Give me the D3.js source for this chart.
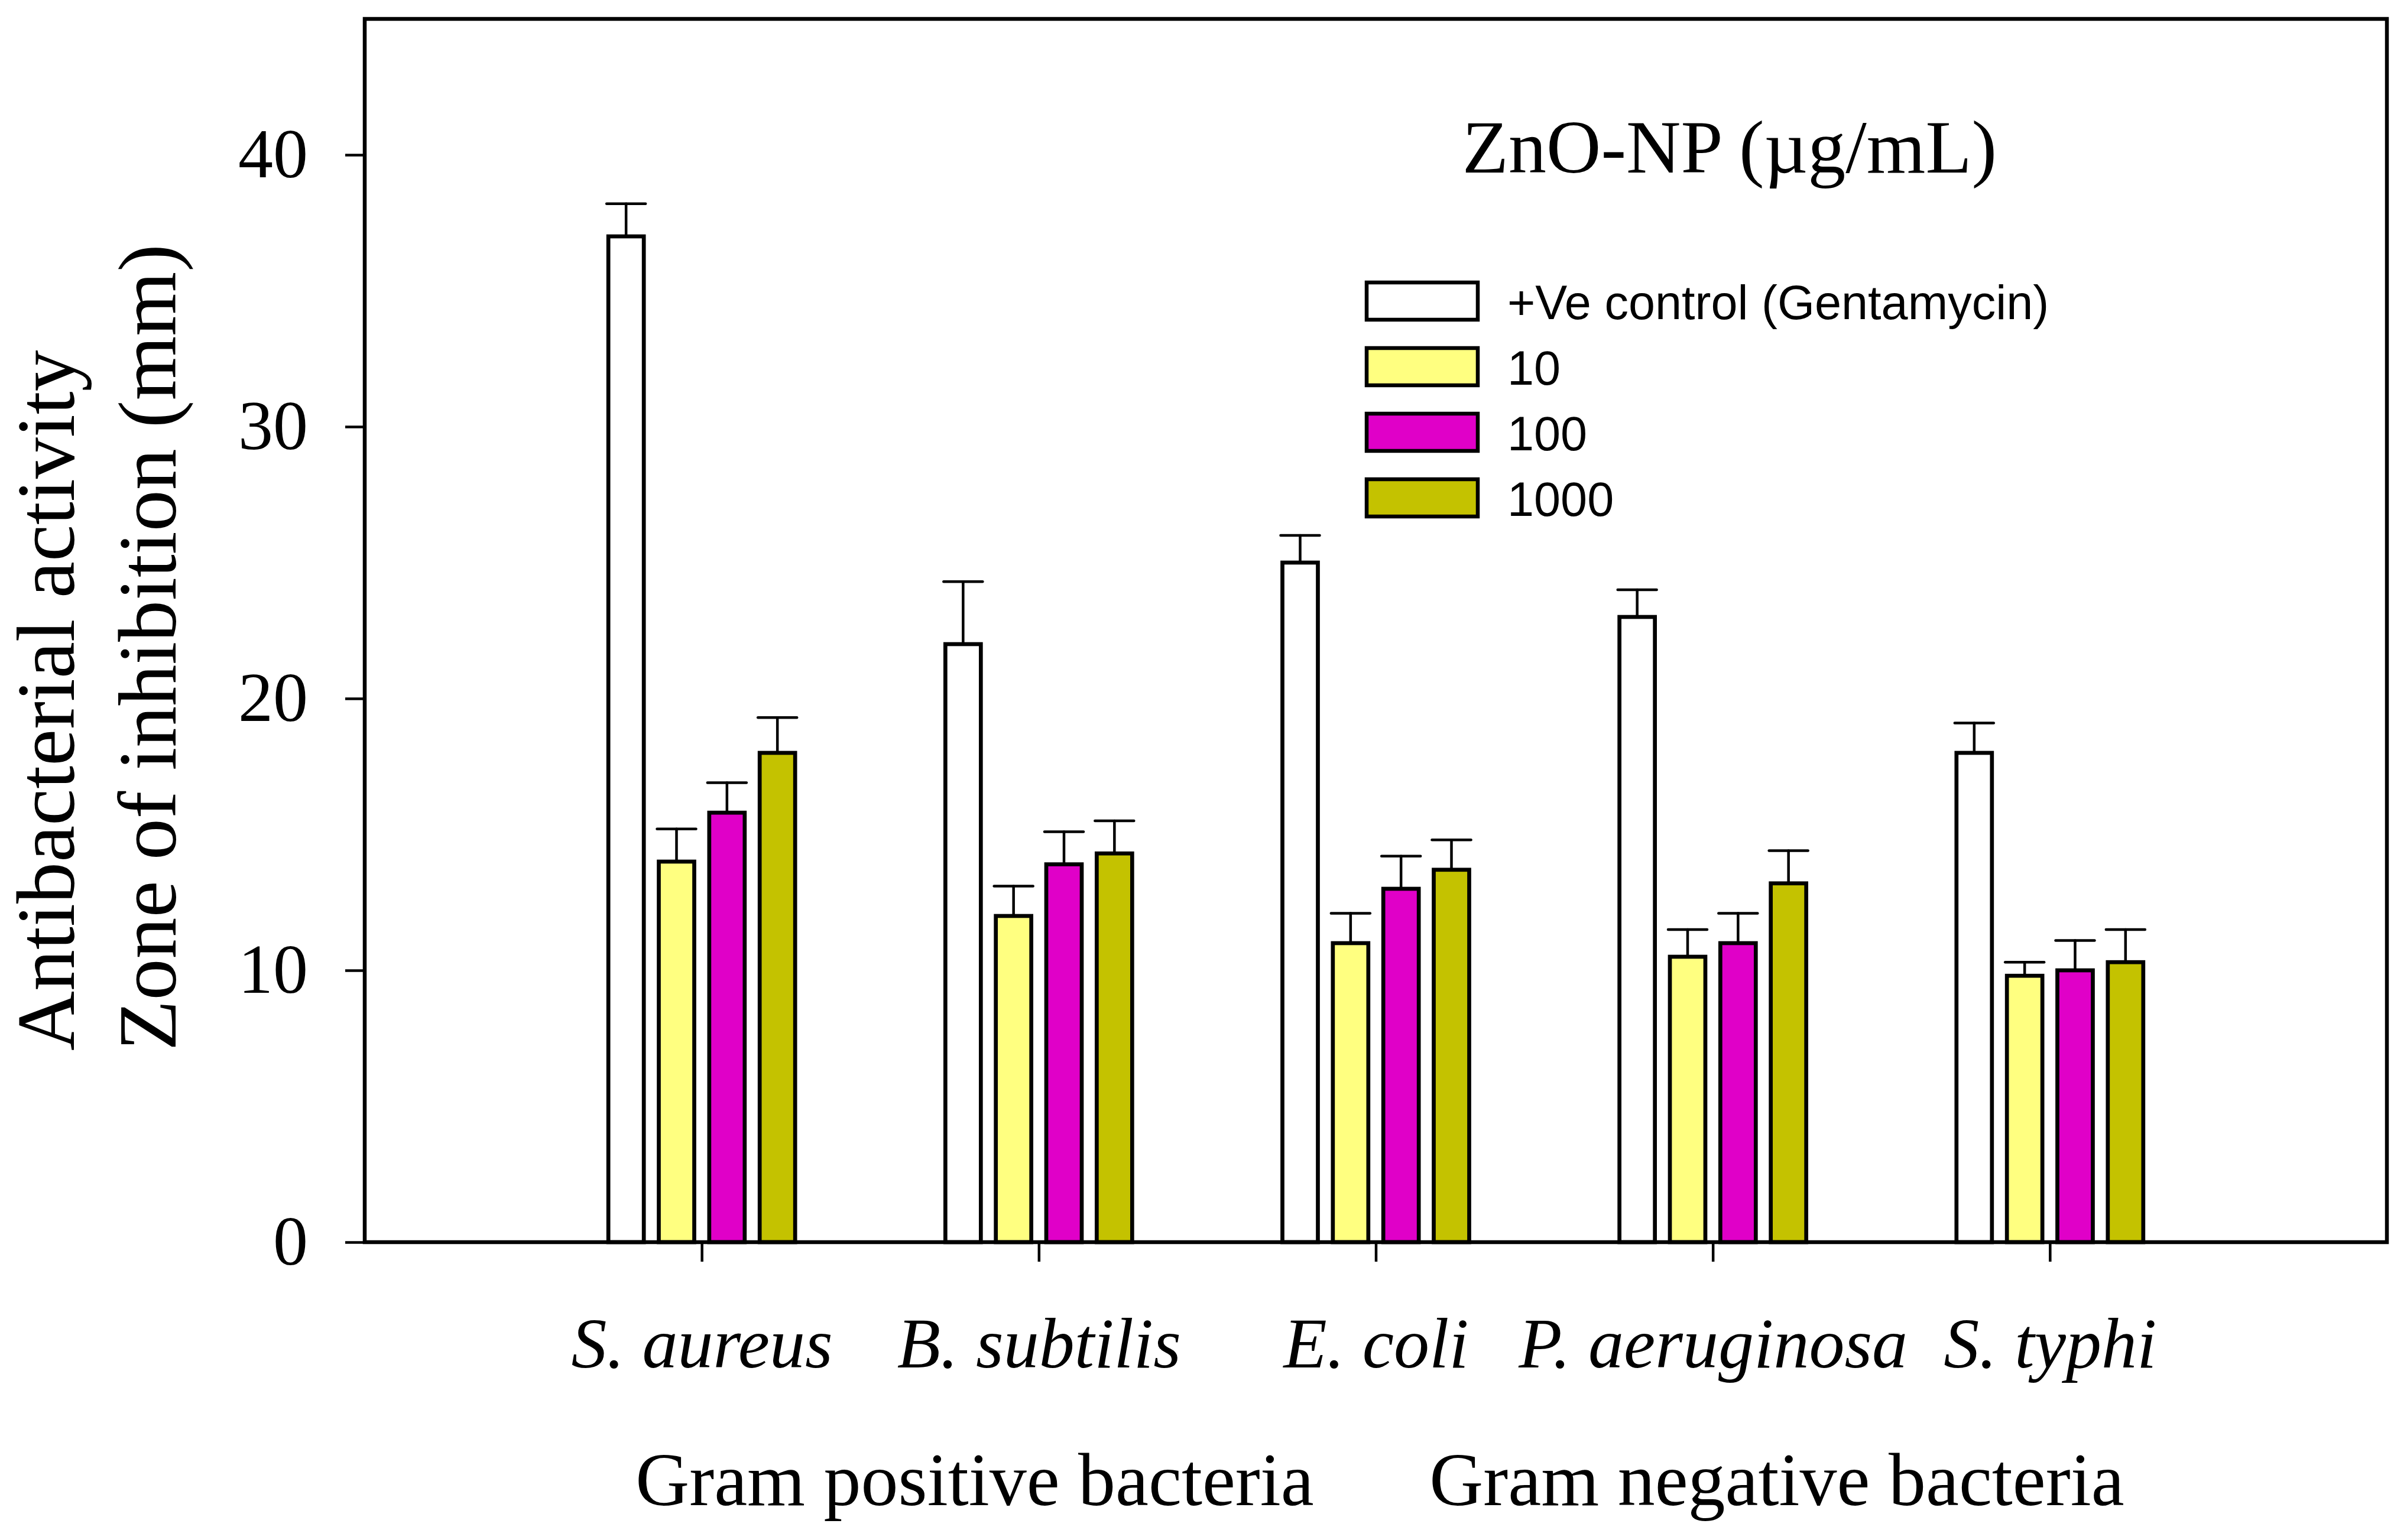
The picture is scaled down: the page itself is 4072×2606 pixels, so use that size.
<!DOCTYPE html>
<html>
<head>
<meta charset="utf-8">
<script src="https://cdn.jsdelivr.net/npm/d3@7"></script>
<style>
  html, body { margin: 0; padding: 0; background: #fff; }
  svg { display: block; }
</style>
</head>
<body>
<svg id="chart"></svg>
<script>
// bacteria along the x axis
var categories = ['S. aureus', 'B. subtilis', 'E. coli', 'P. aeruginosa', 'S. typhi'];

// series (legend order)
var seriesNames = ['+Ve control (Gentamycin)', '10', '100', '1000'];
var seriesColors = ['#ffffff', '#ffff80', '#e000c8', '#c4c200'];

// zone of inhibition (mm)
var control = [37.0, 22.0, 25.0, 23.0, 18.0];
var zno10 = [14.0, 12.0, 11.0, 10.5, 9.8];
var zno100 = [15.8, 13.9, 13.0, 11.0, 10.0];
var zno1000 = [18.0, 14.3, 13.7, 13.2, 10.3];

// upper error bars
var controlErr = [1.2, 2.3, 1.0, 1.0, 1.1];
var zno10Err = [1.2, 1.1, 1.1, 1.0, 0.5];
var zno100Err = [1.1, 1.2, 1.2, 1.1, 1.1];
var zno1000Err = [1.3, 1.2, 1.1, 1.2, 1.2];

var yTicks = [0, 10, 20, 30, 40];

var groupLabels = ['Gram positive bacteria', 'Gram negative bacteria'];
var groupPos = [1.81, 4.19];   // in x-axis units

var values = [control, zno10, zno100, zno1000];
var errors = [controlErr, zno10Err, zno100Err, zno1000Err];

var svgWidth = 4072, svgHeight = 2606;
var plotLeft = 617, plotRight = 4038, plotTop = 32, plotBottom = 2102;
var serif = '"Liberation Serif", "Times New Roman", serif';
var sans = '"Liberation Sans", Arial, sans-serif';

var svg = d3.select('#chart')
    .attr('width', svgWidth)
    .attr('height', svgHeight);

var xScale = d3.scaleLinear().domain([0, categories.length + 1]).range([plotLeft, plotRight]);
var yScale = d3.scaleLinear().domain([0, 45]).range([plotBottom, plotTop]);
var inner = d3.scaleBand().domain(d3.range(seriesNames.length)).range([-158, 158]).paddingInner(0.297);

// flatten to one record per bar
var bars = [];
values.forEach(function(vals, s) {
    vals.forEach(function(v, i) {
        bars.push({ s: s, i: i, v: v, e: errors[s][i] });
    });
});

// bars
svg.append('g').selectAll('rect')
    .data(bars)
    .enter()
    .append('rect')
    .attr('x', function(d) { return xScale(d.i + 1) + inner(d.s); })
    .attr('y', function(d) { return yScale(d.v); })
    .attr('width', inner.bandwidth())
    .attr('height', function(d) { return yScale(0) - yScale(d.v); })
    .attr('fill', function(d) { return seriesColors[d.s]; })
    .attr('stroke', '#000')
    .attr('stroke-width', 6.7);

// error bars (upper only)
var eb = svg.append('g').attr('stroke', '#000').attr('stroke-width', 4.5).attr('stroke-linecap', 'round');
eb.selectAll('line.stem')
    .data(bars)
    .enter()
    .append('line')
    .attr('class', 'stem')
    .attr('x1', function(d) { return xScale(d.i + 1) + inner(d.s) + inner.bandwidth() / 2; })
    .attr('x2', function(d) { return xScale(d.i + 1) + inner(d.s) + inner.bandwidth() / 2; })
    .attr('y1', function(d) { return yScale(d.v); })
    .attr('y2', function(d) { return yScale(d.v + d.e); });
eb.selectAll('line.cap')
    .data(bars)
    .enter()
    .append('line')
    .attr('class', 'cap')
    .attr('x1', function(d) { return xScale(d.i + 1) + inner(d.s) - 3; })
    .attr('x2', function(d) { return xScale(d.i + 1) + inner(d.s) + inner.bandwidth() + 3; })
    .attr('y1', function(d) { return yScale(d.v + d.e); })
    .attr('y2', function(d) { return yScale(d.v + d.e); });

// frame
svg.append('rect')
    .attr('x', plotLeft).attr('y', plotTop)
    .attr('width', plotRight - plotLeft).attr('height', plotBottom - plotTop)
    .attr('fill', 'none').attr('stroke', '#000').attr('stroke-width', 6.5);

// y axis
var yAxis = d3.axisLeft(yScale).tickValues(yTicks).tickSize(33).tickSizeOuter(0).tickPadding(63);
var yg = svg.append('g').attr('transform', 'translate(' + plotLeft + ',0)').call(yAxis);
yg.select('.domain').remove();
yg.selectAll('.tick line').attr('stroke', '#000').attr('stroke-width', 4.5);
yg.selectAll('.tick text')
    .attr('fill', '#000')
    .style('font-family', serif)
    .style('font-size', '118px');

// x axis
var xAxis = d3.axisBottom(xScale)
    .tickValues(d3.range(1, categories.length + 1))
    .tickFormat(function(d) { return categories[d - 1]; })
    .tickSize(33).tickSizeOuter(0).tickPadding(0);
var xg = svg.append('g').attr('transform', 'translate(0,' + plotBottom + ')').call(xAxis);
xg.select('.domain').remove();
xg.selectAll('.tick line').attr('stroke', '#000').attr('stroke-width', 4.5);
xg.selectAll('.tick text')
    .attr('fill', '#000')
    .attr('dy', null)
    .attr('y', 212)
    .style('font-family', serif)
    .style('font-style', 'italic')
    .style('font-size', '120px');

// group labels
svg.append('g').selectAll('text')
    .data(groupLabels)
    .enter()
    .append('text')
    .attr('x', function(d, i) { return xScale(groupPos[i]); })
    .attr('y', 2547)
    .attr('text-anchor', 'middle')
    .style('font-family', serif)
    .style('font-size', '126px')
    .text(function(d) { return d; });

// y title, two lines
var yTitle = ['Antibacterial activity', 'Zone of inhibition (mm)'];
svg.append('g').selectAll('text')
    .data(yTitle)
    .enter()
    .append('text')
    .attr('transform', function(d, i) { return 'translate(' + (125 + i * 172) + ',1778) rotate(-90)'; })
    .attr('text-anchor', 'start')
    .style('font-family', serif)
    .style('font-size', '140px')
    .text(function(d) { return d; });

// legend
svg.append('text')
    .attr('x', 2926).attr('y', 292)
    .attr('text-anchor', 'middle')
    .style('font-family', serif)
    .style('font-size', '128px')
    .text('ZnO-NP (\u00b5g/mL)');

var legend = svg.append('g').selectAll('g')
    .data(seriesNames)
    .enter()
    .append('g')
    .attr('transform', function(d, i) { return 'translate(2312,' + (478 + i * 111) + ')'; });
legend.append('rect')
    .attr('width', 188).attr('height', 63)
    .attr('fill', function(d, i) { return seriesColors[i]; })
    .attr('stroke', '#000').attr('stroke-width', 6.5);
legend.append('text')
    .attr('x', 238).attr('y', 62)
    .style('font-family', sans)
    .style('font-size', '81px')
    .text(function(d) { return d; });
</script>
</body>
</html>
